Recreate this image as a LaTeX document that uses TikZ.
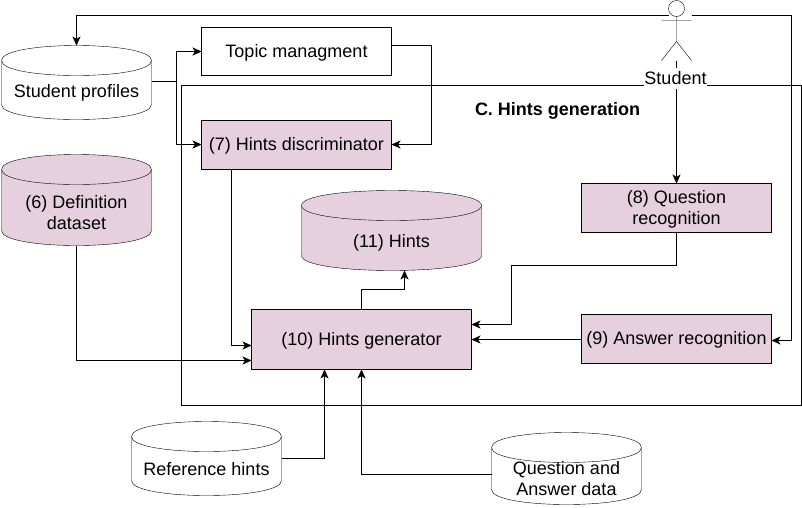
\documentclass[tikz,border=0pt]{standalone}
\usepackage{fontspec}
\setmainfont{Liberation Sans}
\usetikzlibrary{arrows.meta}
\definecolor{pinkfill}{HTML}{E6D0DE}
\tikzset{
  x=1pt,y=-1pt,
  line width=1pt,
  lab/.style={font=\fontsize{18}{21}\selectfont,align=center,inner sep=0pt},
  conn/.style={-{Stealth[length=9pt,width=8pt,inset=2.5pt]},line join=miter},
}
% name, x1, y1, x2, y2, fill, text, text centre y
\newcommand{\cylshape}[8]{%
  \pgfmathsetmacro{\cw}{#4-#2}\pgfmathsetmacro{\ch}{#5-#3}
  \node[minimum width=\cw pt,minimum height=\ch pt,inner sep=0pt,outer sep=0pt] (#1) at ({(#2+#4)/2},{(#3+#5)/2}) {};
  \draw[fill=#6] (#2,#3+15) .. controls (#2,#3-5) and (#4,#3-5) .. (#4,#3+15)
     -- (#4,#5-15) .. controls (#4,#5+5) and (#2,#5+5) .. (#2,#5-15) -- cycle;
  \draw (#2,#3+15) .. controls (#2,#3+35) and (#4,#3+35) .. (#4,#3+15);
  \node[lab] (#1-text) at ({(#2+#4)/2},#8) {#7};
}
\newcommand{\rectshape}[7]{%
  \pgfmathsetmacro{\cw}{#4-#2}\pgfmathsetmacro{\ch}{#5-#3}
  \node[draw,fill=#6,minimum width=\cw pt,minimum height=\ch pt,outer sep=0pt,inner sep=0pt] (#1) at ({(#2+#4)/2},{(#3+#5)/2}) {};
  \node[lab] (#1-text) at ({(#2+#4)/2},{(#3+#5)/2+1}) {#7};
}
\begin{document}
\begin{tikzpicture}
\useasboundingbox (0,0) rectangle (802,507);
\begin{scope}[shift={(0.5,0.5)}]
% container
\node[draw,minimum width=620pt,minimum height=320pt,outer sep=0pt,inner sep=0pt] (hintsbox) at (491,245) {};
\node[font=\fontsize{18}{21}\selectfont\bfseries,inner sep=0pt] (hintstitle) at (557,110) {C. Hints generation};
% shapes
\cylshape{sp}{1}{45}{151}{119}{white}{Student profiles}{92.5}
\cylshape{def}{1}{154}{151}{245}{pinkfill}{(6) Definition\\dataset}{212}
\cylshape{hints}{301}{190}{481}{270}{pinkfill}{(11) Hints}{242.5}
\cylshape{ref}{131}{421}{281}{495}{white}{Reference hints}{469}
\cylshape{qa}{491}{432}{641}{504}{white}{Question and\\Answer data}{478}
\rectshape{topic}{201}{27}{391}{75}{white}{Topic managment}
\rectshape{disc}{201}{120}{391}{169}{pinkfill}{(7) Hints discriminator}
\rectshape{qrec}{581}{183}{771}{232}{pinkfill}{(8) Question\\recognition}
\rectshape{arec}{581}{314}{771}{363}{pinkfill}{(9) Answer recognition}
\rectshape{gen}{251}{309}{471}{369}{pinkfill}{(10) Hints generator}
% connectors
\draw[conn] (668,15) -- (76,15) -- (sp.north -| 76,0);
\draw[conn] (691,15) -- (791,15) -- (791,340) -- (arec.east |- 0,340);
\draw (691,15) -- (706,15);
\draw[conn] (676,60) -- (qrec.north -| 676,0);
\draw[conn] (sp.east |- 0,81) -- (176,81) -- (176,51) -- (topic.west |- 0,51);
\draw[conn] (sp.east |- 0,81) -- (176,81) -- (176,144) -- (disc.west |- 0,144);
\draw[conn] (topic.east |- 0,45) -- (431,45) -- (431,144) -- (disc.east |- 0,144);
\draw[conn] (disc.south -| 231,0) -- (231,345) -- (gen.west |- 0,345);
\draw[conn] (def.south -| 76,0) -- (76,360) -- (gen.west |- 0,360);
\draw[conn] (gen.north -| 361,0) -- (361,289) -- (404,289) -- (hints.south -| 404,0);
\draw[conn] (qrec.south -| 676,0) -- (676,265) -- (511,265) -- (511,324) -- (gen.east |- 0,324);
\draw[conn] (arec.west |- 0,339) -- (gen.east |- 0,339);
\draw[conn] (ref.east |- 0,458) -- (324,458) -- (gen.south -| 324,0);
\draw[conn] (qa.west |- 0,474) -- (361,474) -- (gen.south -| 361,0);
% actor
\draw[fill=white] (676,8) circle (8);
\draw (676,16) -- (676,41) (661,20) -- (691,20) (676,41) -- (661,60) (676,41) -- (691,60);
% actor label over lines
\node[lab,fill=white,minimum height=21pt,minimum width=63pt] (student) at (675,77.5) {Student};
\end{scope}
\end{tikzpicture}
\end{document}
